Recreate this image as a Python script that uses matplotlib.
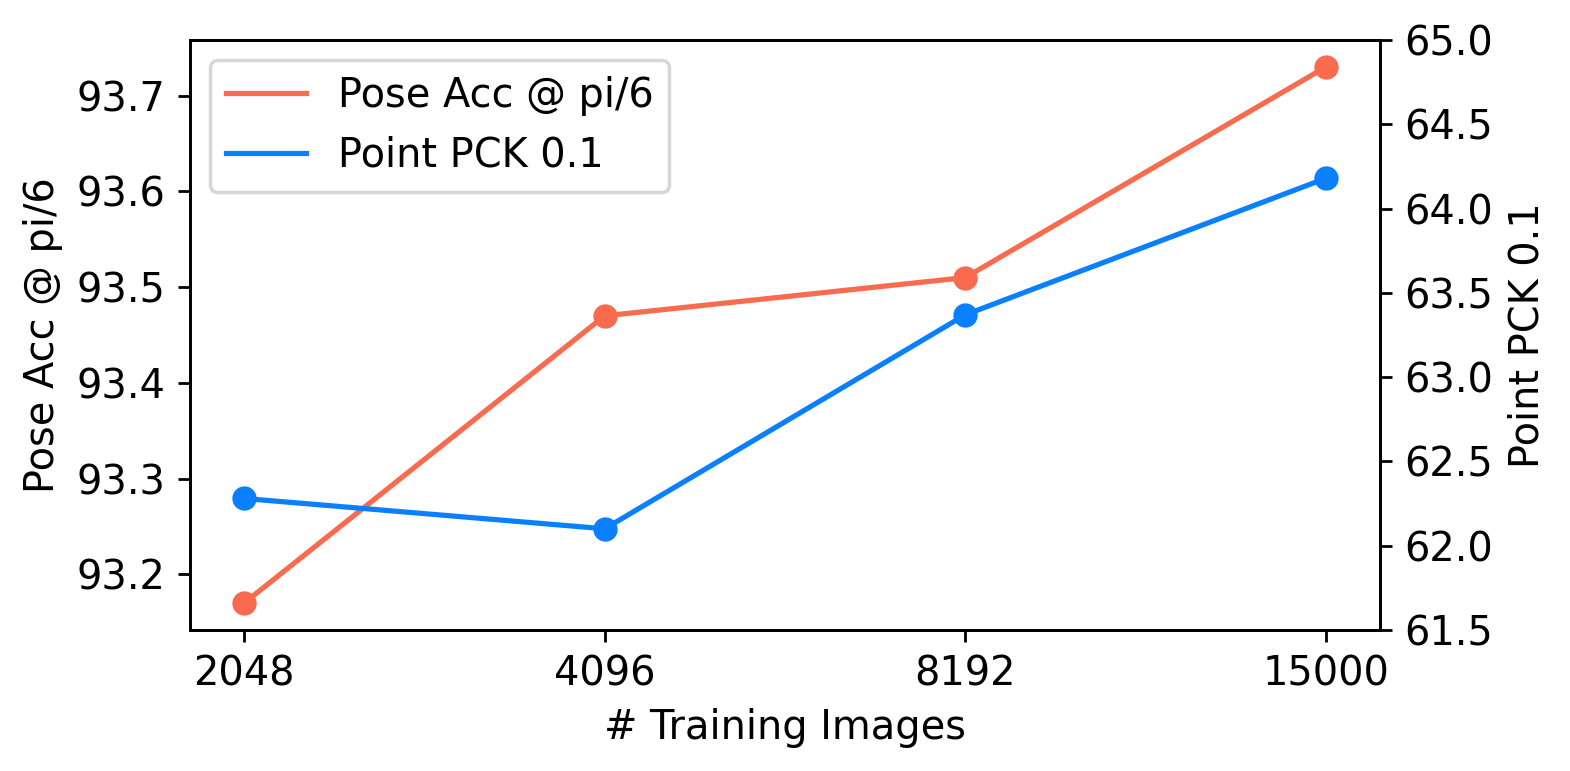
import matplotlib
matplotlib.use("Agg")
import matplotlib.pyplot as plt

plt.rcParams["font.size"] = 11.5

categories = ["2048", "4096", "8192", "15000"]
pose_acc = [93.17, 93.47, 93.51, 93.73]
point_pck = [62.28, 62.10, 63.37, 64.18]

c_pose = "#F86B4F"
c_pck = "#0A80FF"

fig, ax = plt.subplots(figsize=(6.28, 3.084), dpi=250)
fig.subplots_adjust(left=0.121, right=0.879, top=0.948, bottom=0.183)
x = list(range(len(categories)))

l1, = ax.plot(x, pose_acc, color=c_pose, label="Pose Acc @ pi/6")
ax.plot(x, pose_acc, "o", color=c_pose)
ax.set_ylabel("Pose Acc @ pi/6")
ax.set_xlabel("# Training Images")
ax.set_xticks(x)
ax.set_xticklabels(categories)

ax2 = ax.twinx()
l2, = ax2.plot(x, point_pck, color=c_pck, label="Point PCK 0.1")
ax2.plot(x, point_pck, "o", color=c_pck)
ax2.set_ylim(61.5, 65.0)
ax2.set_ylabel("Point PCK 0.1")

ax.legend(handles=[l1, l2], loc="upper left")

fig.savefig("out.png", dpi=250)
